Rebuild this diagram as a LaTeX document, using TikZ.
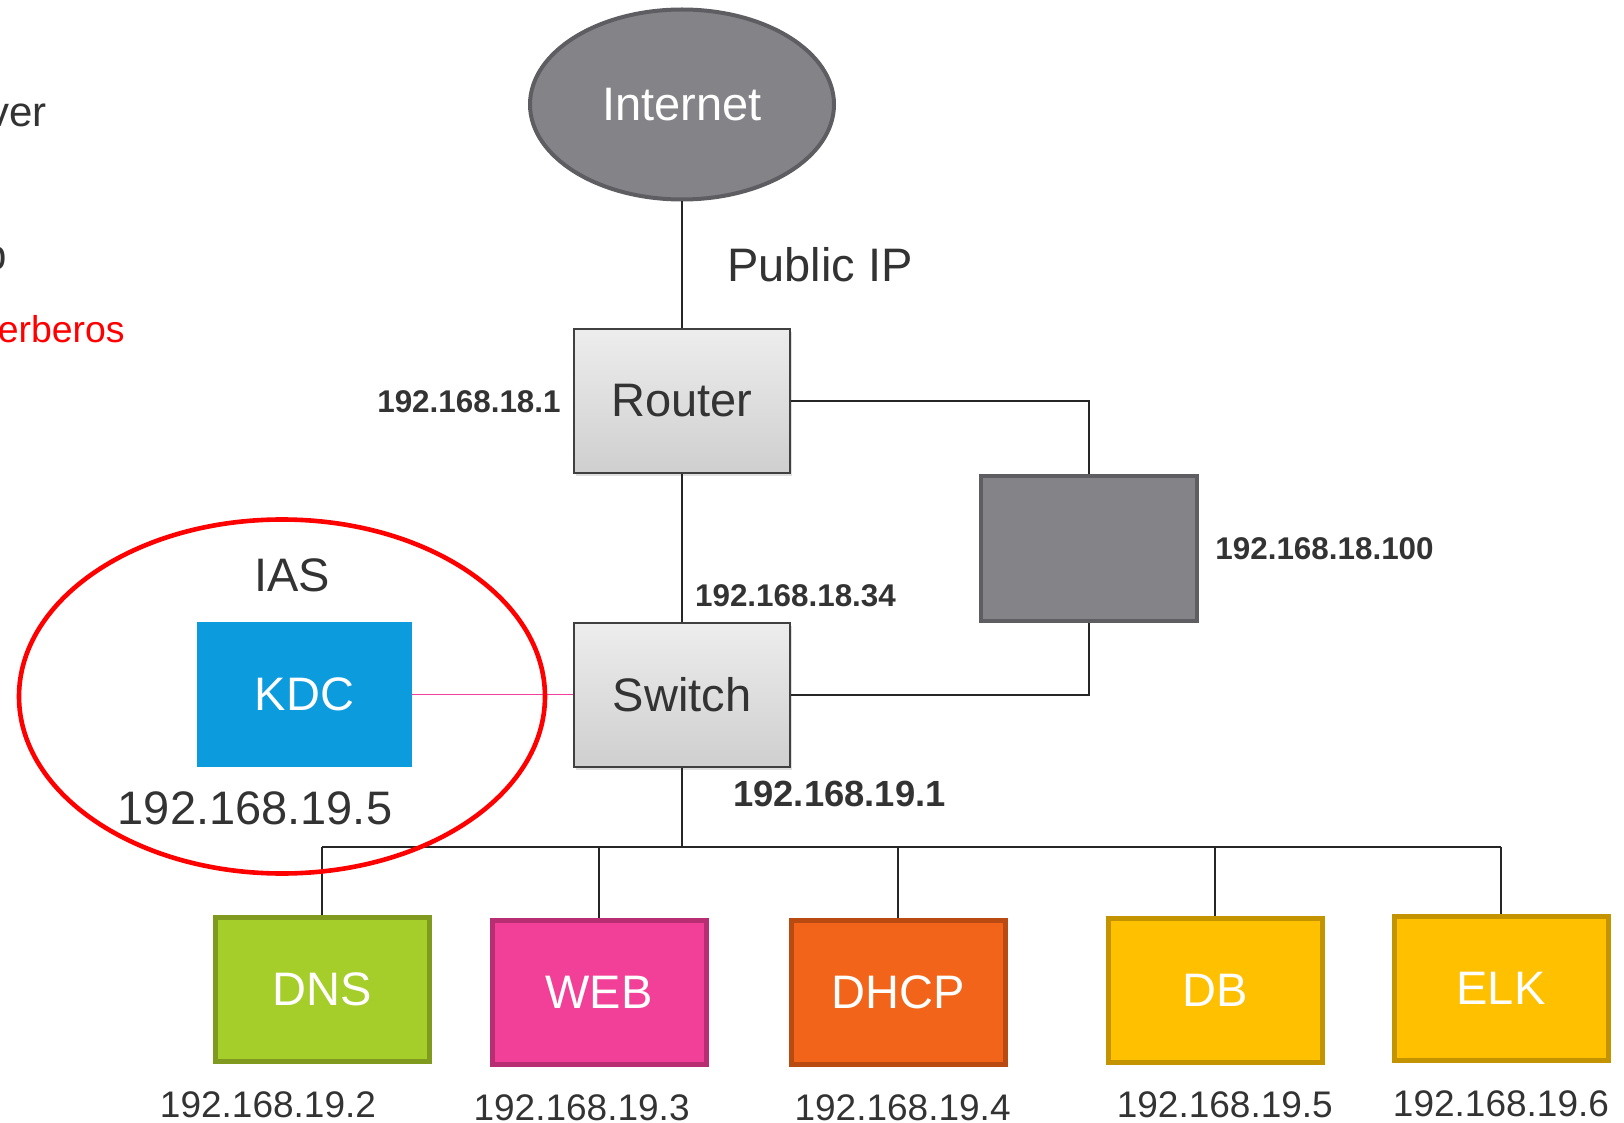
\documentclass[tikz,border=0pt]{standalone}
\usepackage{fontspec}
\setmainfont{Liberation Sans}
\usetikzlibrary{shapes.geometric,shadows,calc}

\definecolor{ink}{HTML}{333333}
\definecolor{wire}{HTML}{262626}
\definecolor{cloudfill}{HTML}{838388}
\definecolor{cloudedge}{HTML}{5E5E62}
\definecolor{boxtop}{HTML}{EDEDED}
\definecolor{boxbot}{HTML}{CFCFCF}
\definecolor{boxedge}{HTML}{404040}
\definecolor{kdcblue}{HTML}{0C9BDD}
\definecolor{linkpink}{HTML}{F0409A}
\definecolor{dnsfill}{HTML}{A6CE2A}
\definecolor{dnsedge}{HTML}{7F9A1E}
\definecolor{webfill}{HTML}{F24098}
\definecolor{webedge}{HTML}{B82E72}
\definecolor{dhcpfill}{HTML}{F26419}
\definecolor{dhcpedge}{HTML}{B84A12}
\definecolor{dbfill}{HTML}{FFC000}
\definecolor{dbedge}{HTML}{C49400}

\newcommand{\fbig}{\fontsize{23.5}{28}\selectfont}
\newcommand{\fmid}{\fontsize{18.5}{22}\selectfont}
\newcommand{\fside}{\fontsize{21}{25}\selectfont}
\newcommand{\fred}{\fontsize{18.7}{22}\selectfont}
\newcommand{\fbold}{\fontsize{15.7}{19}\selectfont\bfseries}
\newcommand{\fboldl}{\fontsize{18.2}{22}\selectfont\bfseries}

\tikzset{
  link/.style={draw=wire, line width=1pt},
  txt/.style={inner sep=0pt, text=ink},
  netbox/.style={draw=boxedge, line width=1pt, top color=boxtop, bottom color=boxbot,
    minimum width=108pt, minimum height=72pt, text=ink, font=\fbig,
    drop shadow={shadow xshift=1.2pt, shadow yshift=-1.5pt, opacity=0.25}},
  srvbox/.style 2 args={fill=#1, draw=#2, line width=2.5pt, minimum width=107pt,
    minimum height=72pt, text=white, font=\fbig},
  iplabel/.style={txt, font=\fmid},
}

\begin{document}
\begin{tikzpicture}[x=0.5pt, y=-0.5pt]
\useasboundingbox (0,0) rectangle (1624,1123);
\clip (0,0) rectangle (1624,1123);

% text cut off at the left edge
\node[txt, font=\fside, anchor=base east] (t1) at (47,126.7) {ver};
\node[txt, font=\fside, anchor=base east] (t2) at (7,270) {p};
\node[txt, font=\fred, text=red, anchor=base east] (t3) at (125,343) {erberos};

% core devices
\node[ellipse, draw=cloudedge, line width=2pt, fill=cloudfill, minimum width=152pt,
      minimum height=95pt, text=white, font=\fbig] (inet) at (682,104.5) {Internet};
\node[netbox] (router) at (682,401) {Router};
\node[netbox] (sw) at (682,694.5) {Switch};
\node[draw=cloudedge, line width=2pt, fill=cloudfill, minimum width=108pt,
      minimum height=72.5pt] (fw) at (1089,548.5) {};
\node[fill=kdcblue, minimum width=107.5pt, minimum height=72.5pt, text=white,
      font=\fbig] (kdc) at (304.5,694.5) {KDC};

% servers
\node[srvbox={dnsfill}{dnsedge}] (dns) at (322,989.7) {DNS};
\node[srvbox={webfill}{webedge}] (web) at (599,992) {WEB};
\node[srvbox={dhcpfill}{dhcpedge}] (dhcp) at (898,992) {DHCP};
\node[srvbox={dbfill}{dbedge}] (db) at (1215,990) {DB};
\node[srvbox={dbfill}{dbedge}] (elk) at (1501,988) {ELK};

% labels
\node[txt, font=\fbig] (pub) at (820,265) {Public IP};
\node[txt, font=\fbold] (ip181) at (469,402) {192.168.18.1};
\node[txt, font=\fbold] (ip1834) at (795.5,595.5) {192.168.18.34};
\node[txt, font=\fboldl] (ip191) at (839.5,794) {192.168.19.1};
\node[txt, font=\fbold, anchor=west] (ip18100) at (1215,549) {192.168.18.100};
\node[txt, font=\fbig] (ias) at (292,575) {IAS};
\node[txt, font=\fbig] (kdcip) at (255,808) {192.168.19.5};
\node[iplabel] (ipdns) at (268,1105) {192.168.19.2};
\node[iplabel] (ipweb) at (581.6,1108) {192.168.19.3};
\node[iplabel] (ipdhcp) at (902.6,1108) {192.168.19.4};
\node[iplabel] (ipdb) at (1224.8,1105) {192.168.19.5};
\node[iplabel] (ipelk) at (1501,1104) {192.168.19.6};

% wiring
\draw[link] (inet) -- (router);
\draw[link] (router) -- (sw);
\draw[link] (router.east) -| (fw.north);
\draw[link] (sw.east) -| (fw.south);
\draw[draw=linkpink, line width=0.8pt] (kdc.east) -- (sw.west);

\coordinate (busL) at (322,847);
\coordinate (busR) at (1501,847);
\draw[link] (busL) -- (busR);
\draw[link] (sw.south) -- (sw.south |- busL);
\foreach \n in {dns,web,dhcp,db,elk}
  \draw[link] (\n.north) -- (\n.north |- busL);

% authentication zone
\node[ellipse, draw=red, line width=2.3pt, minimum width=263pt, minimum height=177pt]
  (zone) at (282,696.5) {};
\end{tikzpicture}
\end{document}
